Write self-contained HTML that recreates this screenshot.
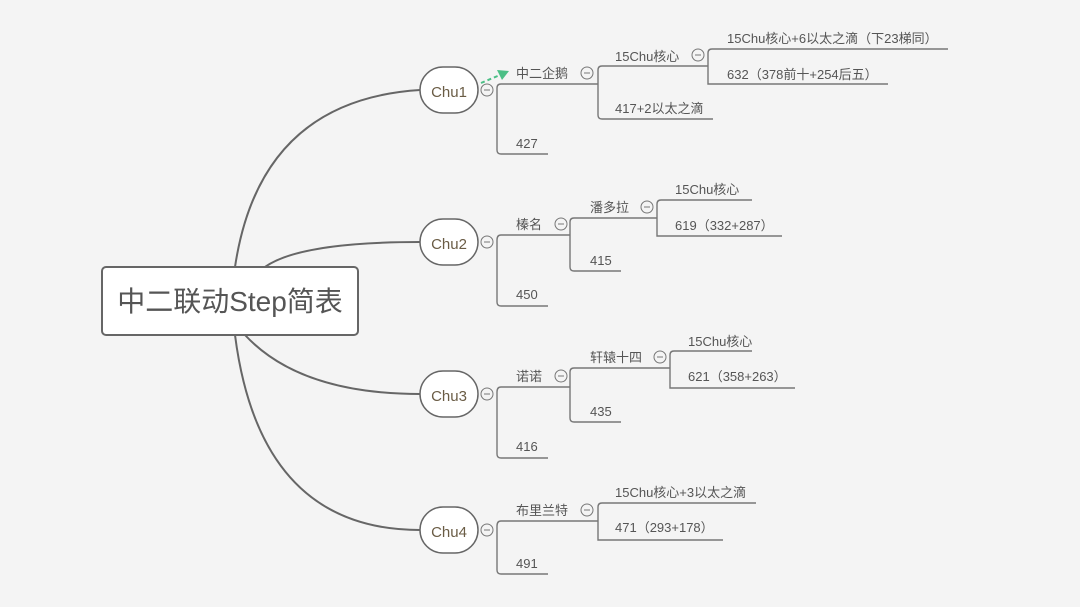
<!DOCTYPE html>
<html><head><meta charset="utf-8"><style>
html,body{margin:0;padding:0;background:#f4f4f4;}
svg{display:block}
text{font-family:"Liberation Sans","Noto Sans CJK SC",sans-serif;font-size:13px;fill:#555;}
.l{fill:none;stroke:#777;stroke-width:1.4}
.m{fill:none;stroke:#666;stroke-width:2}
.c{fill:#f4f4f4;stroke:#777;stroke-width:1}
</style></head><body>
<svg width="1080" height="607" viewBox="0 0 1080 607">
<rect width="1080" height="607" fill="#f4f4f4"/>
<!-- main curves -->
<path class="m" d="M235 267 Q260 100 420 90"/>
<path class="m" d="M265 267 Q300 242 420 242"/>
<path class="m" d="M245 335 Q300 394 420 394"/>
<path class="m" d="M235 335 Q260 530 420 530"/>
<rect x="102" y="267" width="256" height="68" rx="4" fill="#fff" stroke="#666" stroke-width="2"/>
<text x="230" y="311" text-anchor="middle" style="font-size:28px;fill:#555">中二联动Step简表</text>

<!-- Chu nodes -->
<g>
<rect x="420" y="67" width="58" height="46" rx="23" fill="#fff" stroke="#666" stroke-width="1.5"/>
<text x="449" y="97" text-anchor="middle" style="font-size:15px;fill:#6a5c45">Chu1</text>
<rect x="420" y="219" width="58" height="46" rx="23" fill="#fff" stroke="#666" stroke-width="1.5"/>
<text x="449" y="249" text-anchor="middle" style="font-size:15px;fill:#6a5c45">Chu2</text>
<rect x="420" y="371" width="58" height="46" rx="23" fill="#fff" stroke="#666" stroke-width="1.5"/>
<text x="449" y="401" text-anchor="middle" style="font-size:15px;fill:#6a5c45">Chu3</text>
<rect x="420" y="507" width="58" height="46" rx="23" fill="#fff" stroke="#666" stroke-width="1.5"/>
<text x="449" y="537" text-anchor="middle" style="font-size:15px;fill:#6a5c45">Chu4</text>
</g>

<!-- Chu1 -->
<path class="l" d="M497 88 Q497 84 501 84 L598 84 M497 88 L497 150 Q497 154 501 154 L548 154"/>
<path class="l" d="M598 84 L598 70 Q598 66 602 66 L708 66 M598 84 L598 115 Q598 119 602 119 L713 119"/>
<path class="l" d="M708 66 L708 53 Q708 49 712 49 L948 49 M708 66 L708 84 L888 84"/>
<text x="516" y="78">中二企鹅</text>
<text x="615" y="61">15Chu核心</text>
<text x="615" y="113">417+2以太之滴</text>
<text x="727" y="43">15Chu核心+6以太之滴（下23梯同）</text>
<text x="727" y="79">632（378前十+254后五）</text>
<text x="516" y="148">427</text>
<path d="M481 83 L500 75" stroke="#4cbf86" stroke-width="2" stroke-dasharray="4,3" fill="none"/>
<path d="M509 71 L497 70 L502 80 Z" fill="#4cbf86"/>

<!-- Chu2 -->
<path class="l" d="M497 240 Q497 235 501 235 L570 235 M497 240 L497 302 Q497 306 501 306 L548 306"/>
<path class="l" d="M570 235 L570 222 Q570 218 574 218 L657 218 M570 235 L570 267 Q570 271 574 271 L621 271"/>
<path class="l" d="M657 218 L657 204 Q657 200 661 200 L752 200 M657 218 L657 236 L782 236"/>
<text x="516" y="229">榛名</text>
<text x="590" y="212">潘多拉</text>
<text x="590" y="265">415</text>
<text x="675" y="194">15Chu核心</text>
<text x="675" y="230">619（332+287）</text>
<text x="516" y="299">450</text>

<!-- Chu3 -->
<path class="l" d="M497 392 Q497 387 501 387 L570 387 M497 392 L497 454 Q497 458 501 458 L548 458"/>
<path class="l" d="M570 387 L570 372 Q570 368 574 368 L670 368 M570 387 L570 418 Q570 422 574 422 L621 422"/>
<path class="l" d="M670 368 L670 355 Q670 351 674 351 L752 351 M670 368 L670 388 L795 388"/>
<text x="516" y="381">诺诺</text>
<text x="590" y="362">轩辕十四</text>
<text x="590" y="416">435</text>
<text x="688" y="346">15Chu核心</text>
<text x="688" y="381">621（358+263）</text>
<text x="516" y="451">416</text>

<!-- Chu4 -->
<path class="l" d="M497 526 Q497 521 501 521 L598 521 M497 526 L497 570 Q497 574 501 574 L548 574"/>
<path class="l" d="M598 521 L598 507 Q598 503 602 503 L756 503 M598 521 L598 540 L723 540"/>
<text x="516" y="515">布里兰特</text>
<text x="615" y="497">15Chu核心+3以太之滴</text>
<text x="615" y="532">471（293+178）</text>
<text x="516" y="568">491</text>

<!-- collapse circles -->
<g>
<circle class="c" cx="487" cy="90" r="6"/><line x1="484" y1="90" x2="490" y2="90" stroke="#777"/>
<circle class="c" cx="587" cy="73" r="6"/><line x1="584" y1="73" x2="590" y2="73" stroke="#777"/>
<circle class="c" cx="698" cy="55" r="6"/><line x1="695" y1="55" x2="701" y2="55" stroke="#777"/>
<circle class="c" cx="487" cy="242" r="6"/><line x1="484" y1="242" x2="490" y2="242" stroke="#777"/>
<circle class="c" cx="561" cy="224" r="6"/><line x1="558" y1="224" x2="564" y2="224" stroke="#777"/>
<circle class="c" cx="647" cy="207" r="6"/><line x1="644" y1="207" x2="650" y2="207" stroke="#777"/>
<circle class="c" cx="487" cy="394" r="6"/><line x1="484" y1="394" x2="490" y2="394" stroke="#777"/>
<circle class="c" cx="561" cy="376" r="6"/><line x1="558" y1="376" x2="564" y2="376" stroke="#777"/>
<circle class="c" cx="660" cy="357" r="6"/><line x1="657" y1="357" x2="663" y2="357" stroke="#777"/>
<circle class="c" cx="487" cy="530" r="6"/><line x1="484" y1="530" x2="490" y2="530" stroke="#777"/>
<circle class="c" cx="587" cy="510" r="6"/><line x1="584" y1="510" x2="590" y2="510" stroke="#777"/>
</g>
</svg>
</body></html>
